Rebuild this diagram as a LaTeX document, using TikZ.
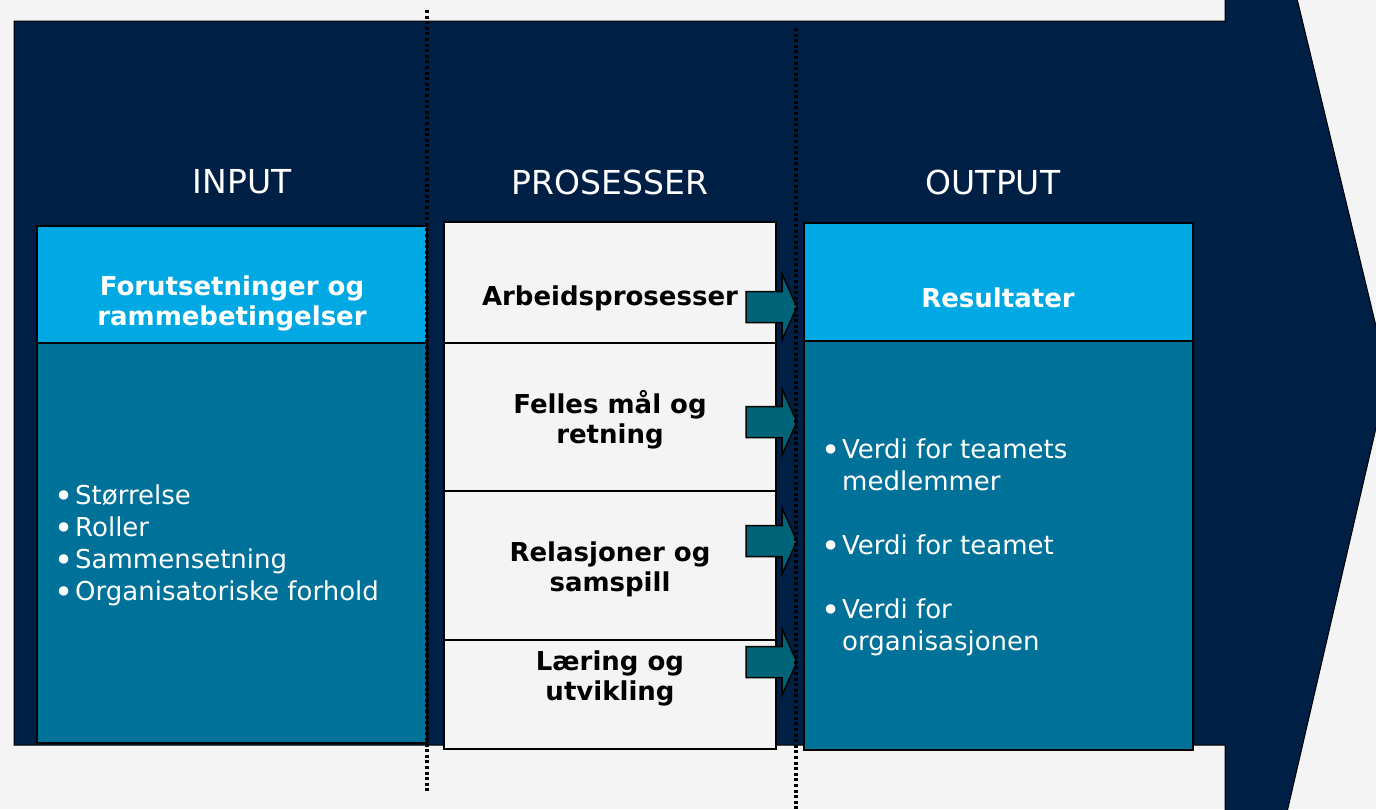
\documentclass[tikz,border=0pt]{standalone}
\usepackage{fontspec}
\setmainfont{DejaVu Sans}
\usetikzlibrary{positioning}
\definecolor{navy}{HTML}{001F45}
\definecolor{skyblue}{HTML}{00A9E3}
\definecolor{petrol}{HTML}{007299}
\definecolor{arrteal}{HTML}{006478}
\definecolor{bggrey}{HTML}{F4F4F4}
\newcommand{\blt}{\makebox[21pt][l]{\raisebox{-2.5pt}{\scalebox{1.25}{•}}}}

\begin{document}
\begin{tikzpicture}[
x=1pt,y=-1pt,
panel/.style={draw=black,line width=1.5pt},
title/.style={text=white,font=\fontsize{33}{40}\selectfont,inner sep=0},
hdr/.style={text=white,font=\fontsize{26}{30}\selectfont\bfseries,align=center,inner sep=0},
proc/.style={text=black,font=\fontsize{26}{30}\selectfont\bfseries,align=center,inner sep=0},
blist/.style={text=white,font=\fontsize{26}{32}\selectfont,align=left,inner sep=0,anchor=north west},
barrow/.style={draw=black,line width=1.5pt,fill=arrteal},
divider/.style={draw=black,line width=3.6pt,dash pattern=on 3pt off 2.6pt},
]
\useasboundingbox (0,0) rectangle (1376,809);
\clip (0,0) rectangle (1376,809);
\fill[bggrey] (0,0) rectangle (1376,809);

% big arrow
\draw[fill=navy,line width=1pt] (14,21) -- (1225,21) -- (1225,-300) -- (1388,376)
  -- (1225,1080) -- (1225,745) -- (14,745) -- cycle;

% input
\draw[panel,fill=skyblue] (37,226) rectangle (427,343);
\draw[panel,fill=petrol] (37,343) rectangle (427,743);

% processes
\draw[panel,fill=bggrey] (444,222) rectangle (776,749);
\foreach \yy in {343,491,640}
  \draw[panel] (444,\yy) -- (776,\yy);

% output
\draw[panel,fill=skyblue] (804,223) rectangle (1193,341);
\draw[panel,fill=petrol] (804,341) rectangle (1193,750);

\foreach \ty in {307,422,541,662}
  \draw[barrow] (746,\ty-15.5) -- (782,\ty-15.5) -- (782,\ty-33) -- (797,\ty)
    -- (782,\ty+33) -- (782,\ty+15.5) -- (746,\ty+15.5) -- cycle;

\node[title] (tin) at (242,182) {INPUT};
\node[title] (tproc) at (610,182) {PROSESSER};
\node[title] (tout) at (993,182) {OUTPUT};

\node[hdr] (forut) at (232,303) {Forutsetninger og\\rammebetingelser};
\node[hdr] (res) at (998,298) {Resultater};

\node[proc] (arb) at (610,298) {Arbeidsprosesser};
\node[proc] (felles) at (610,420) {Felles mål og\\retning};
\node[proc] (rel) at (610,569) {Relasjoner og\\samspill};
\node[proc] (laer) at (610,678) {Læring og\\utvikling};

\node[blist] (ilist) at (54,485) {\blt Størrelse\\\blt Roller\\\blt Sammensetning\\\blt Organisatoriske forhold};
\node[blist] (olist) at (821,439) {\blt Verdi for teamets\\\hspace*{21pt}medlemmer\\[32pt]\blt Verdi for teamet\\[32pt]\blt Verdi for\\\hspace*{21pt}organisasjonen};

\draw[divider] (427,10) -- (427,792);
\draw[divider] (796,28) -- (796,815);

\end{tikzpicture}
\end{document}
